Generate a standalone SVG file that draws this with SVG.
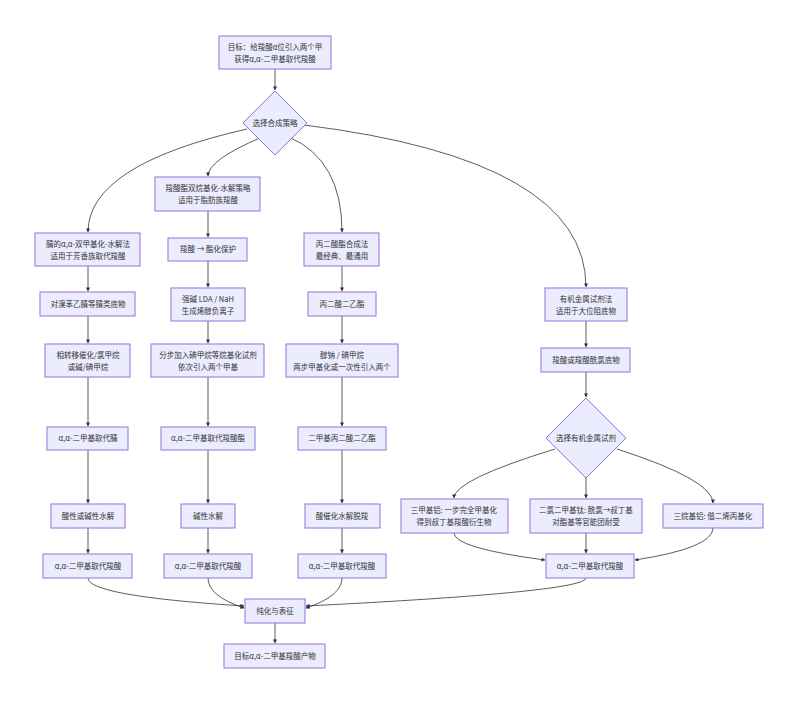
<svg xmlns="http://www.w3.org/2000/svg" width="799" height="704" viewBox="0 0 799 704">
<style>
.n rect,.n polygon{fill:#ececff;stroke:#9370db;stroke-width:1}
.n text{font-family:"Noto Sans CJK SC","Liberation Sans",sans-serif;font-size:7.5px;fill:#333;text-anchor:middle}
#edges path{fill:none;stroke:#333;stroke-width:0.8;marker-end:url(#a)}
</style>
<defs><marker id="a" viewBox="0 0 10 10" refX="9" refY="5" markerWidth="5" markerHeight="5" orient="auto"><path d="M0,0L10,5L0,10z" fill="#333"/></marker></defs>
<rect width="799" height="704" fill="#fff"/>
<g id="edges">
<path d="M275,69V90"/>
<path d="M262,137Q208,160 208,176"/>
<path d="M247,129Q88,165 88,232"/>
<path d="M289,137Q342,160 342,232"/>
<path d="M304,125Q586,160 586,287"/>
<path d="M88,266V291"/><path d="M88,316V343"/><path d="M88,377V426"/><path d="M88,450V503"/><path d="M88,528V553"/>
<path d="M208,211V237"/><path d="M208,261V287"/><path d="M208,321V343"/><path d="M208,377V426"/><path d="M208,450V503"/><path d="M208,528V553"/>
<path d="M342,266V291"/><path d="M342,316V343"/><path d="M342,377V426"/><path d="M342,450V503"/><path d="M342,528V553"/>
<path d="M586,321V347"/><path d="M586,372V397"/>
<path d="M555,449Q454,480 454,498"/><path d="M586,478V498"/><path d="M617,449Q713,480 713,503"/>
<path d="M454,533Q454,548 545,560"/><path d="M586,533V553"/><path d="M713,528Q713,548 635,560"/>
<path d="M88,578Q88,596 244,606"/><path d="M208,578Q208,596 244,608"/><path d="M342,578Q342,596 306,608"/><path d="M586,578Q586,592 306,606"/>
<path d="M275,623V643"/>
</g>
<g id="goal" class="n"><rect x="219" y="36" width="112" height="33"/><text x="275" y="50">目标：给羧酸α位引入两个甲</text><text x="275" y="62">获得α,α-二甲基取代羧酸</text></g>
<g id="choose" class="n"><polygon points="275,91 307,123 275,155 243,123"/><text x="275" y="126">选择合成策略</text></g>
<g id="ester" class="n"><rect x="155" y="177" width="105" height="34"/><text x="208" y="191">羧酸酯双烷基化-水解策略</text><text x="208" y="203">适用于脂肪族羧酸</text></g>
<g id="c1a" class="n"><rect x="35" y="233" width="105" height="33"/><text x="88" y="247">腈的α,α-双甲基化-水解法</text><text x="88" y="259">适用于芳香族取代羧酸</text></g>
<g id="c1b" class="n"><rect x="40" y="292" width="95" height="24"/><text x="88" y="307">对溴苯乙腈等腈类底物</text></g>
<g id="c1c" class="n"><rect x="45" y="344" width="85" height="33"/><text x="88" y="358">相转移催化/氯甲烷</text><text x="88" y="370">或碱/碘甲烷</text></g>
<g id="c1d" class="n"><rect x="47" y="427" width="81" height="23"/><text x="88" y="441">α,α-二甲基取代腈</text></g>
<g id="c1e" class="n"><rect x="51" y="504" width="74" height="24"/><text x="88" y="519">酸性或碱性水解</text></g>
<g id="c1f" class="n"><rect x="43" y="554" width="89" height="24"/><text x="88" y="569">α,α-二甲基取代羧酸</text></g>
<g id="c2a" class="n"><rect x="168" y="238" width="79" height="23"/><text x="208" y="252">羧酸 → 酯化保护</text></g>
<g id="c2b" class="n"><rect x="171" y="288" width="74" height="33"/><text x="208" y="302">强碱 LDA / NaH</text><text x="208" y="314">生成烯醇负离子</text></g>
<g id="c2c" class="n"><rect x="151" y="344" width="113" height="33"/><text x="208" y="358">分步加入碘甲烷等烷基化试剂</text><text x="208" y="370">依次引入两个甲基</text></g>
<g id="c2d" class="n"><rect x="161" y="427" width="94" height="23"/><text x="208" y="441">α,α-二甲基取代羧酸酯</text></g>
<g id="c2e" class="n"><rect x="181" y="504" width="54" height="24"/><text x="208" y="519">碱性水解</text></g>
<g id="c2f" class="n"><rect x="164" y="554" width="88" height="24"/><text x="208" y="569">α,α-二甲基取代羧酸</text></g>
<g id="c3a" class="n"><rect x="304" y="233" width="75" height="33"/><text x="342" y="247">丙二酸酯合成法</text><text x="342" y="259">最经典、最通用</text></g>
<g id="c3b" class="n"><rect x="308" y="292" width="68" height="24"/><text x="342" y="307">丙二酸二乙酯</text></g>
<g id="c3c" class="n"><rect x="286" y="344" width="112" height="33"/><text x="342" y="358">醇钠 / 碘甲烷</text><text x="342" y="370">两步甲基化或一次性引入两个</text></g>
<g id="c3d" class="n"><rect x="298" y="427" width="88" height="23"/><text x="342" y="441">二甲基丙二酸二乙酯</text></g>
<g id="c3e" class="n"><rect x="305" y="504" width="75" height="24"/><text x="342" y="519">酸催化水解脱羧</text></g>
<g id="c3f" class="n"><rect x="298" y="554" width="88" height="24"/><text x="342" y="569">α,α-二甲基取代羧酸</text></g>
<g id="c4a" class="n"><rect x="545" y="288" width="82" height="33"/><text x="586" y="302">有机金属试剂法</text><text x="586" y="314">适用于大位阻底物</text></g>
<g id="c4b" class="n"><rect x="541" y="348" width="89" height="24"/><text x="586" y="363">羧酸或羧酸酰氯底物</text></g>
<g id="c4c" class="n"><polygon points="586,398 626,438 586,478 546,438"/><text x="586" y="441">选择有机金属试剂</text></g>
<g id="c4d" class="n"><rect x="401" y="499" width="107" height="34"/><text x="454" y="513">三甲基铝: 一步完全甲基化</text><text x="454" y="525">得到叔丁基羧酸衍生物</text></g>
<g id="c4e" class="n"><rect x="530" y="499" width="112" height="34"/><text x="586" y="513">二氯二甲基钛: 酰氯→叔丁基</text><text x="586" y="525">对酯基等官能团耐受</text></g>
<g id="c4f" class="n"><rect x="663" y="504" width="100" height="24"/><text x="713" y="519">三烷基铝: 偕二烯丙基化</text></g>
<g id="c4g" class="n"><rect x="546" y="554" width="88" height="24"/><text x="590" y="569">α,α-二甲基取代羧酸</text></g>
<g id="purify" class="n"><rect x="245" y="599" width="60" height="24"/><text x="275" y="614">纯化与表征</text></g>
<g id="final" class="n"><rect x="224" y="644" width="101" height="24"/><text x="275" y="659">目标α,α-二甲基羧酸产物</text></g>
</svg>
